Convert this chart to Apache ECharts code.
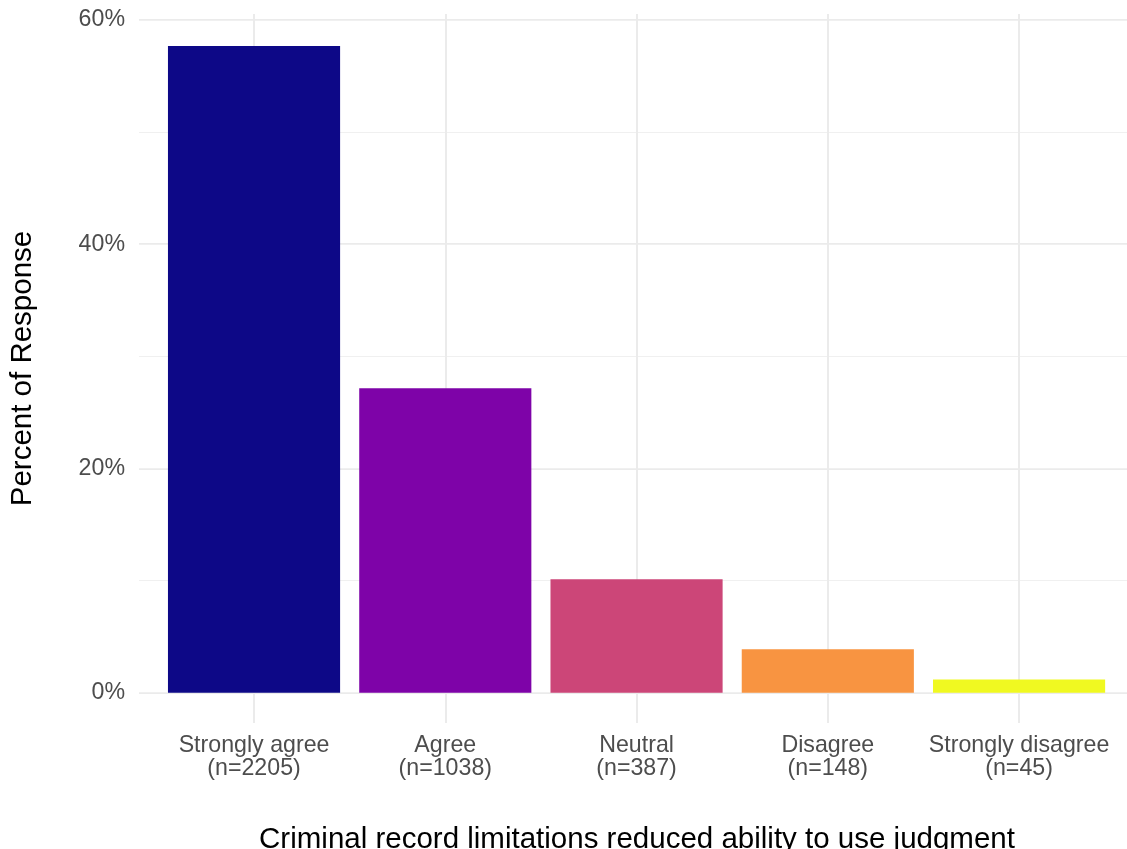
<!DOCTYPE html>
<html>
<head>
<meta charset="utf-8">
<style>
  html, body { margin: 0; padding: 0; background: #ffffff; }
  #chart { width: 1127px; height: 849px; }
</style>
<script src="https://cdn.jsdelivr.net/npm/echarts@6/dist/echarts.min.js"></script>
</head>
<body>
<div id="chart"></div>
<script>
const categories = ['Strongly agree', 'Agree', 'Neutral', 'Disagree', 'Strongly disagree'];
const counts = [2205, 1038, 387, 148, 45];
const percents = [57.68, 27.15, 10.12, 3.87, 1.18];
const yTicks = [0, 20, 40, 60];
const barColors = ['#0D0887', '#7E03A8', '#CC4678', '#F89441', '#F0F921'];

const FONT = "'Liberation Sans', Arial, sans-serif";
const labels = categories.map((c, i) => c + '\n(n=' + counts[i] + ')');

const chart = echarts.init(document.getElementById('chart'));
chart.setOption({
  backgroundColor: '#ffffff',
  animation: false,
  grid: [
    { left: 158.4, right: 12.3, top: 20, bottom: 156.3, containLabel: false, outerBoundsMode: 'none' },
    { left: 139, right: 0, top: 20, bottom: 156.3, containLabel: false, outerBoundsMode: 'none' },
    { left: 254, right: 107.9, top: 14, bottom: 126, containLabel: false, outerBoundsMode: 'none' }
  ],
  xAxis: [
    {
      type: 'category', gridIndex: 0, data: labels,
      axisLine: { show: false }, axisTick: { show: false }, splitLine: { show: false },
      axisLabel: { interval: 0, margin: 42, color: '#4d4d4d', fontSize: 23.2, lineHeight: 22.5, fontFamily: FONT, align: 'center' }
    },
    {
      type: 'value', gridIndex: 1, min: 0, max: 1,
      axisLine: { show: false }, axisTick: { show: false }, splitLine: { show: false }, axisLabel: { show: false },
      name: 'Criminal record limitations reduced ability to use judgment',
      nameLocation: 'middle', nameGap: 132,
      nameTextStyle: { color: '#000000', fontSize: 29.5, fontFamily: FONT, padding: [0, 0, 0, 8] }
    },
    {
      type: 'category', gridIndex: 2, data: categories, boundaryGap: false,
      axisLine: { show: false }, axisTick: { show: false }, axisLabel: { show: false },
      splitLine: { show: true, interval: 0, lineStyle: { color: '#EBEBEB', width: 2 } }
    }
  ],
  yAxis: [
    { type: 'value', gridIndex: 0, min: 0, max: 60, show: false },
    {
      type: 'value', gridIndex: 1, min: 0, max: 60, interval: 20,
      axisLine: { show: false }, axisTick: { show: false },
      splitLine: { show: true, lineStyle: { color: '#EBEBEB', width: 2 } },
      axisLabel: { margin: 14, color: '#4d4d4d', fontSize: 23.2, fontFamily: FONT, formatter: v => yTicks.includes(v) ? v + '%' : '' }
    },
    {
      type: 'value', gridIndex: 1, min: 0, max: 60, interval: 10, position: 'left',
      axisLine: { show: false }, axisTick: { show: false }, axisLabel: { show: false },
      splitLine: { show: true, lineStyle: { color: '#F0F0F0', width: 1 } }
    },
    {
      type: 'value', gridIndex: 2, min: 0, max: 1, position: 'left',
      axisLine: { show: false }, axisTick: { show: false }, axisLabel: { show: false }, splitLine: { show: false },
      name: 'Percent of Response', nameLocation: 'middle', nameGap: 216, nameRotate: 90,
      nameTextStyle: { color: '#000000', fontSize: 29.5, fontFamily: FONT }
    }
  ],
  series: [
    {
      type: 'bar', xAxisIndex: 0, yAxisIndex: 0, z: 5,
      barCategoryGap: '10%',
      data: percents.map((v, i) => ({ value: v, itemStyle: { color: barColors[i] } }))
    }
  ]
});
</script>
</body>
</html>
